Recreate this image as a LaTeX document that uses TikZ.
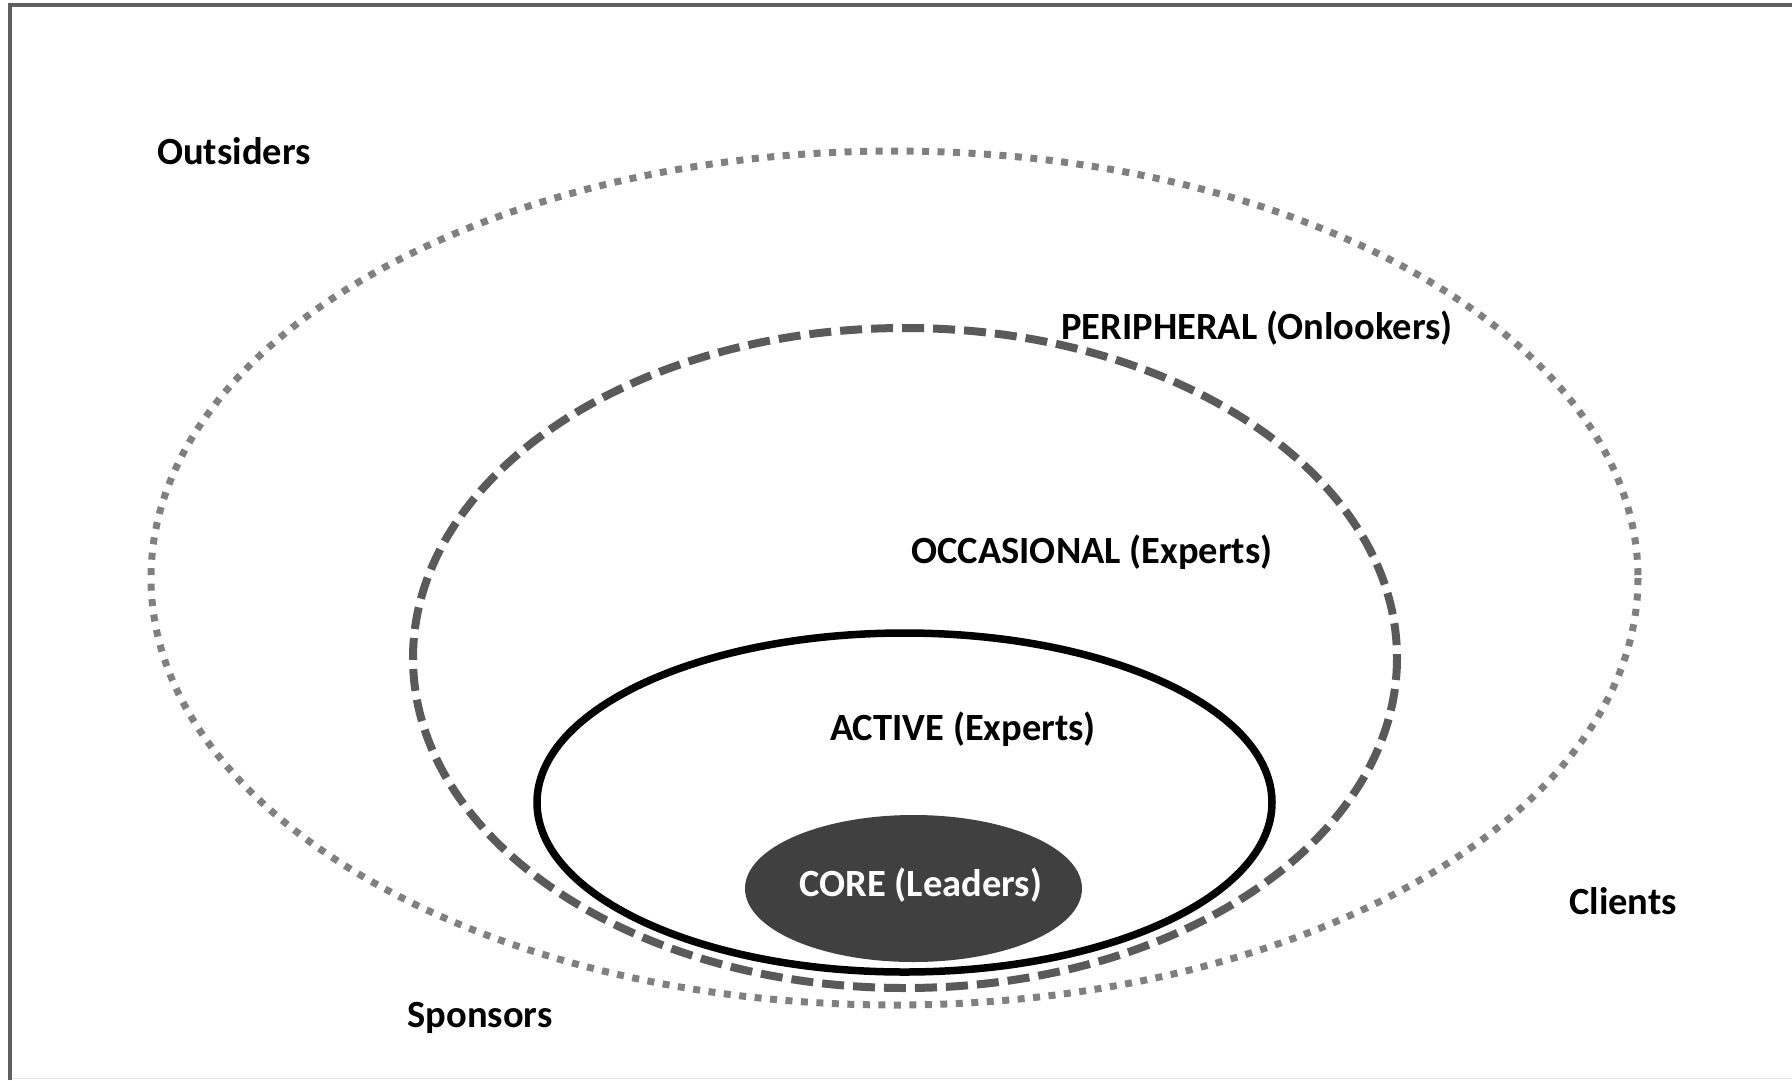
\documentclass[tikz,border=0pt]{standalone}
\usepackage{fontspec}
\setmainfont{Carlito}
\definecolor{framegray}{HTML}{5F5F5F}
\definecolor{dotgray}{HTML}{808080}
\definecolor{dashgray}{HTML}{5A5A5A}
\definecolor{coregray}{HTML}{404040}
\begin{document}
\begin{tikzpicture}[x=1pt,y=-1pt,
  lbl/.style={anchor=base, inner sep=0pt, font=\fontsize{38.5}{46}\selectfont\bfseries, text=black},
  dotring/.style={draw=dotgray, line width=7pt, dash pattern=on 7pt off 8.5pt},
  dashring/.style={draw=dashgray, line width=8pt, dash pattern=on 22pt off 9pt},
  solidring/.style={draw=black, line width=7.5pt},
  corering/.style={fill=coregray}]
\useasboundingbox (0,0) rectangle (1792,1080);
\fill[white] (0,0) rectangle (1792,1080);
% frame
\draw[framegray, line width=4.5pt] (10,1080) -- (10,5) -- (1792,5);
\draw[black!10, line width=1pt] (12,1078) -- (1792,1078);
% rings
\draw[dotring] (894.5,578) ellipse [x radius=743.5, y radius=427];
\draw[dashring] (905,658) ellipse [x radius=492, y radius=330];
\draw[solidring, fill=white] (904.5,802.5) ellipse [x radius=367.5, y radius=169.5];
\fill[corering] (913.5,888.5) ellipse [x radius=168.5, y radius=73.5];
% labels
\node[lbl] (outsiders) at (234,164) {Outsiders};
\node[lbl] (peripheral) at (1257,339) {PERIPHERAL (Onlookers)};
\node[lbl] (occasional) at (1092,563) {OCCASIONAL (Experts)};
\node[lbl] (active) at (963,740) {ACTIVE (Experts)};
\node[lbl, text=white] (core) at (921,896) {CORE (Leaders)};
\node[lbl] (clients) at (1623,914) {Clients};
\node[lbl] (sponsors) at (480,1027) {Sponsors};
\end{tikzpicture}
\end{document}
